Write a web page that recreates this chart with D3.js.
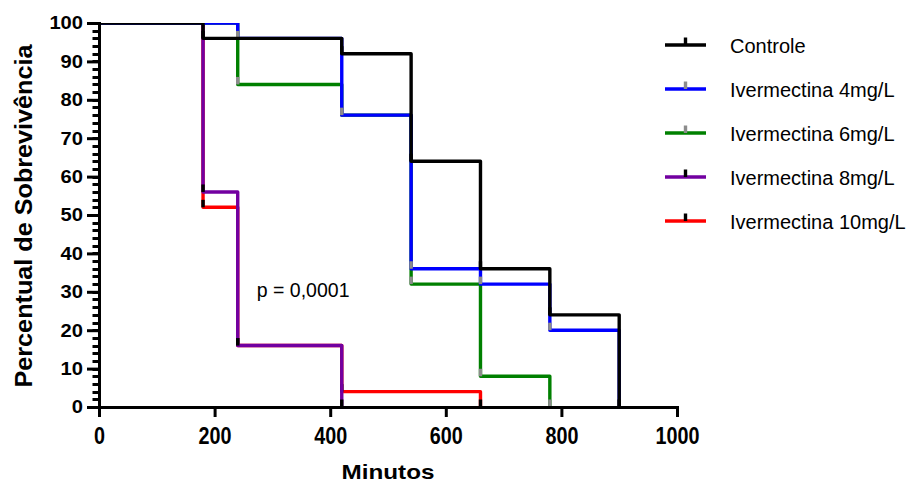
<!DOCTYPE html>
<html>
<head>
<meta charset="utf-8">
<script src="https://cdn.jsdelivr.net/npm/d3@7"></script>
<style>
  body { margin: 0; background: #fff; }
  svg { display: block; font-family: "Liberation Sans", Arial, sans-serif; }
</style>
</head>
<body>
<svg id="chart" width="908" height="486"></svg>
<script>

// curvas de sobrevivencia (tempo em minutos, percentual)
const seriesNames = ['Controle', 'Ivermectina 4mg/L', 'Ivermectina 6mg/L', 'Ivermectina 8mg/L', 'Ivermectina 10mg/L'];

const controleTempo = [0, 180, 420, 540, 660, 780, 900];
const controleSobrev = [100, 96, 92, 64, 36, 24, 0];

const iver4Tempo = [0, 240, 420, 540, 660, 780, 900];
const iver4Sobrev = [100, 96, 76, 36, 32, 20, 0];

const iver6Tempo = [0, 240, 420, 540, 660, 780];
const iver6Sobrev = [100, 84, 76, 32, 8, 0];

const iver8Tempo = [0, 180, 240, 420];
const iver8Sobrev = [100, 56, 16, 0];

const iver10Tempo = [0, 180, 240, 420, 660];
const iver10Sobrev = [100, 52, 16, 4, 0];

const xTicks = [0, 200, 400, 600, 800, 1000];
const yTicks = [0, 10, 20, 30, 40, 50, 60, 70, 80, 90, 100];
const yMinorTicks = d3.range(0, 101, 2);

const pValueText = 'p = 0,0001';

const lineColors = ['#000000', '#0000ff', '#008000', '#7200a0', '#ff0000'];
const markColors = ['#000000', '#8c8c8c', '#8c8c8c', '#000000', '#000000'];


/**
 * Kaplan-Meier style step chart.
 * @class
 */
class SurvivalChart {

  constructor(svg) {

    this._svg = d3.select(svg);
    this._xScale = d3.scaleLinear().domain([0, 1000]).range([99, 677]);
    this._yScale = d3.scaleLinear().domain([0, 100]).range([407, 23]);
  }

  setData(series) {

    this._series = series;
    return this;
  }

  render() {

    this.renderCurves();
    this.renderAxes();
    this.renderLabels();
    this.renderLegend();
    return this;
  }

  renderCurves() {

    const x = this._xScale, y = this._yScale;

    this._svg.append('clipPath')
      .attr('id', 'plot-clip')
      .append('rect')
      .attr('x', x(0))
      .attr('y', y(100))
      .attr('width', x(1000) - x(0) + 20)
      .attr('height', y(0) - y(100));

    const line = d3.line()
      .x(d => x(d[0]))
      .y(d => y(d[1]))
      .curve(d3.curveStepAfter);

    const plot = this._svg.append('g').attr('clip-path', 'url(#plot-clip)');

    // last series at the bottom, Controle on top
    this._series.slice().reverse().forEach(s => {

      const g = plot.append('g').attr('class', 'curve');

      g.append('path')
        .datum(s.points)
        .attr('d', line)
        .attr('fill', 'none')
        .attr('stroke', s.color)
        .attr('stroke-width', 3.4)
        .attr('stroke-linejoin', 'round');

      g.selectAll('line.mark')
        .data(s.points.slice(1))
        .enter()
        .append('line')
        .attr('class', 'mark')
        .attr('x1', d => x(d[0]))
        .attr('x2', d => x(d[0]))
        .attr('y1', d => y(d[1]))
        .attr('y2', d => y(d[1]) - 7.5)
        .attr('stroke', s.mark)
        .attr('stroke-width', 3.4);
    });
  }

  renderAxes() {

    const x = this._xScale, y = this._yScale;

    // minor ticks every 2%
    this._svg.append('g')
      .attr('class', 'minor')
      .selectAll('line')
      .data(yMinorTicks)
      .enter()
      .append('line')
      .attr('x1', x(0) - 6.5)
      .attr('x2', x(0))
      .attr('y1', d => Math.round(y(d)) + 0.5)
      .attr('y2', d => Math.round(y(d)) + 0.5)
      .attr('stroke', '#000')
      .attr('stroke-width', 3);

    const yAxis = this._svg.append('g')
      .attr('transform', `translate(${x(0)},0)`)
      .call(d3.axisLeft(y).tickValues(yTicks).tickSize(12).tickSizeOuter(0)
        .tickPadding(4).tickFormat(d3.format('d')));

    const xAxis = this._svg.append('g')
      .attr('transform', `translate(0,${y(0)})`)
      .call(d3.axisBottom(x).tickValues(xTicks).tickSize(10).tickSizeOuter(0)
        .tickPadding(10).tickFormat(d3.format('d')));

    [yAxis, xAxis].forEach(a => {
      a.select('.domain')
        .attr('stroke-width', 3)
        .attr('stroke-linecap', 'square');
      a.selectAll('.tick line').attr('stroke-width', 3);
    });

    yAxis.selectAll('text')
      .attr('fill', '#000')
      .style('font-family', '"Liberation Sans", Arial, sans-serif')
      .style('font-size', '18.5px')
      .style('font-weight', 'bold')
      .attr('textLength', d => String(d).length * 11.2)
      .attr('lengthAdjust', 'spacingAndGlyphs');

    xAxis.selectAll('text')
      .attr('fill', '#000')
      .style('font-family', '"Liberation Sans", Arial, sans-serif')
      .style('font-size', '24.5px')
      .style('font-weight', 'bold')
      .attr('textLength', d => String(d).length * 11)
      .attr('lengthAdjust', 'spacingAndGlyphs');
  }

  renderLabels() {

    const x = this._xScale, y = this._yScale;

    this._svg.append('text')
      .attr('x', (x(0) + x(1000)) / 2)
      .attr('y', 479)
      .attr('text-anchor', 'middle')
      .style('font-size', '21px')
      .style('font-weight', 'bold')
      .attr('textLength', 93)
      .attr('lengthAdjust', 'spacingAndGlyphs')
      .text('Minutos');

    this._svg.append('text')
      .attr('transform', `translate(32,${(y(0) + y(100)) / 2 + 1}) rotate(-90)`)
      .attr('text-anchor', 'middle')
      .style('font-size', '24px')
      .style('font-weight', 'bold')
      .attr('textLength', 343)
      .attr('lengthAdjust', 'spacingAndGlyphs')
      .text('Percentual de Sobrevivência');

    this._svg.append('text')
      .attr('x', x(273))
      .attr('y', y(28.6))
      .style('font-size', '19.5px')
      .text(pValueText);
  }

  renderLegend() {

    const rows = this._svg.append('g')
      .selectAll('g')
      .data(this._series)
      .enter()
      .append('g')
      .attr('transform', (d, i) => `translate(665,${45 + i * 44})`);

    rows.append('line')
      .attr('x1', 0)
      .attr('x2', 41)
      .attr('stroke', d => d.color)
      .attr('stroke-width', 3.4);

    rows.append('line')
      .attr('x1', 20.5)
      .attr('x2', 20.5)
      .attr('y1', 0)
      .attr('y2', -7.5)
      .attr('stroke', d => d.mark)
      .attr('stroke-width', 3.4);

    rows.append('text')
      .attr('x', 65)
      .attr('y', 7.5)
      .style('font-size', '20px')
      .text(d => d.name);
  }
}


const tempos = [controleTempo, iver4Tempo, iver6Tempo, iver8Tempo, iver10Tempo];
const sobrevs = [controleSobrev, iver4Sobrev, iver6Sobrev, iver8Sobrev, iver10Sobrev];

const series = seriesNames.map((name, i) => ({
  name: name,
  color: lineColors[i],
  mark: markColors[i],
  points: tempos[i].map((t, j) => [t, sobrevs[i][j]])
}));

new SurvivalChart('#chart').setData(series).render();
</script>
</body>
</html>
